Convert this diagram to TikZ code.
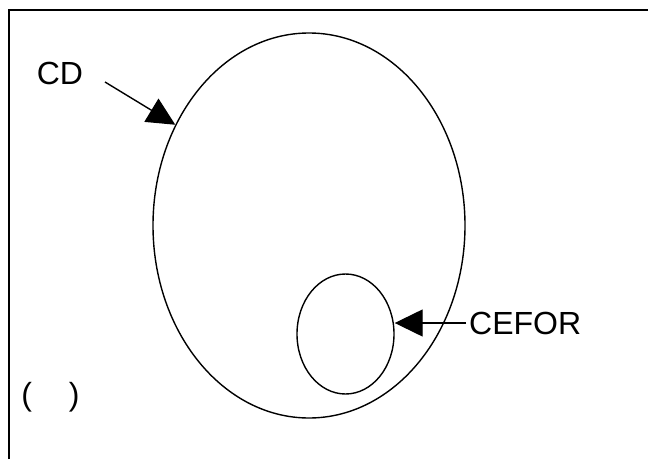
\documentclass[tikz,border=0pt]{standalone}
\usepackage{fontspec}
\setmainfont{Liberation Sans}
\usepackage{tikz}
\usetikzlibrary{arrows.meta,positioning,shapes.geometric}
\begin{document}
\begin{tikzpicture}[x=1pt,y=1pt,
  lbl/.style={font=\fontsize{32}{38}\selectfont,inner sep=3pt},
  set/.style={draw,ellipse,line width=1.4pt,inner sep=0pt},
  ar/.style={-{Triangle[length=28pt,width=27pt]},line width=1.4pt}]
\useasboundingbox (0,0) rectangle (648,459);
\fill[white] (0,0) rectangle (648,459);
\draw[line width=2pt] (9,0) |- (648,449);
\node[set,minimum width=312pt,minimum height=385pt] (cdset) at (309,233.5) {};
\node[set,minimum width=97pt,minimum height=120pt] (cfset) at (345.5,125) {};
\node[lbl] (cd) at (60,385.5) {CD};
\node[lbl,anchor=west] (cefor) at (466,136) {CEFOR};
\node[lbl] (blank) at (50.5,62) {(\hspace{37pt})};
\coordinate (cdtail) at (105,377);
\draw[ar] (cdtail) -- (cdset.143.6);
\draw[ar] (cefor.west) -- (cfset.east |- cefor.west);
\end{tikzpicture}
\end{document}
